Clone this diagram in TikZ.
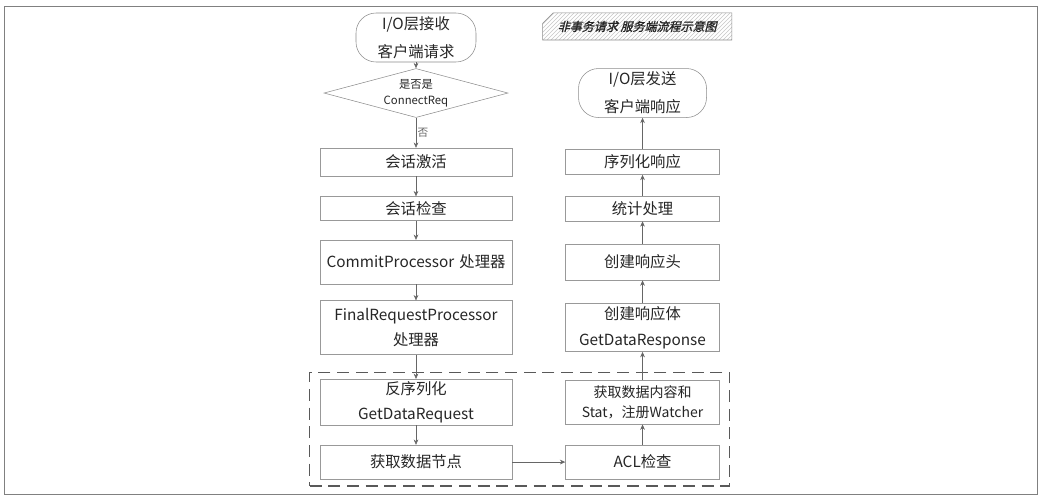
\documentclass[tikz,border=0pt]{standalone}
\usepackage{fontspec}
\setmainfont{Noto Sans CJK SC}
\newfontfamily\notefont[FakeSlant=0.25,FakeBold=1.2]{Noto Sans CJK SC}
\usepackage{xcolor}
\usepackage{tikz}
\usetikzlibrary{shapes.geometric,shapes.misc,arrows.meta,positioning,fit,patterns}

\begin{document}
\begin{tikzpicture}[
  font=\fontsize{11.5}{19}\selectfont, text=black!85,
  proc/.style={rectangle, draw=black!40, fill=white, align=center,
               inner xsep=0pt, inner ysep=0pt},
  procl/.style={proc, text width=144pt},
  procr/.style={proc, text width=115.5pt},
  term/.style={rectangle, rounded corners=15pt, draw=black!45, fill=white,
               text width=90pt, align=center, inner sep=0pt,
               minimum height=36.75pt, font=\fontsize{11.5}{21}\selectfont},
  decide/.style={diamond, draw=black!45, aspect=3.75, inner sep=0pt,
                 minimum width=138pt, minimum height=36.75pt, align=center,
                 font=\fontsize{8.5}{12}\selectfont},
  note/.style={chamfered rectangle, chamfered rectangle corners=north west,
               chamfered rectangle xsep=4pt, chamfered rectangle ysep=4pt,
               draw=black!45, pattern=north east lines, pattern color=black!22,
               minimum width=142pt, minimum height=16pt, inner sep=2pt,
               font=\notefont\fontsize{9}{11}\selectfont},
  lab/.style={font=\fontsize{8}{10}\selectfont, inner sep=1pt},
  arr/.style={-{Stealth[length=4pt, width=3.5pt]}, black!60},
  group/.style={draw=black!65, line width=0.8pt, dash pattern=on 9pt off 5pt},
  node distance=15pt and 39.75pt]

\useasboundingbox (0,0) rectangle (780pt,-371.25pt);
\draw[black!50] (3pt,-4.5pt) rectangle (777.75pt,-370.5pt);

% request side
\node[term] (start) at (312pt,-28.125pt) {I/O层接收\\客户端请求};
\node[decide, below=4.5pt of start] (isconn) {是否是\\ConnectReq};
\node[procl, minimum height=21pt, below=22.5pt of isconn] (activate) {会话激活};
\node[procl, minimum height=18pt, below=15pt of activate] (check) {会话检查};
\node[procl, minimum height=33pt, below=14.25pt of check] (commit) {CommitProcessor 处理器};
\node[procl, minimum height=40.5pt, below=12pt of commit] (final) {FinalRequestProcessor\\处理器};
\node[procl, minimum height=34.5pt, below=18pt of final] (deser) {反序列化\\GetDataRequest};
\node[procl, minimum height=25.5pt, below=14.5pt of deser] (getnode) {获取数据节点};

% response side
\node[procr, minimum height=25.5pt, right=of getnode] (acl) {ACL检查};
\node[procr, minimum height=33pt, font=\fontsize{10.5}{15}\selectfont,
      right=of deser] (fetch) {获取数据内容和\\Stat，注册Watcher};
\node[procr, minimum height=36pt, right=of final] (respbody) {创建响应体\\GetDataResponse};
\node[procr, minimum height=27pt, right=of commit] (resphead) {创建响应头};
\node[procr, minimum height=18.75pt, right=of check] (stats) {统计处理};
\node[procr, minimum height=18.75pt, right=of activate] (serial) {序列化响应};
\node[term, text width=96pt, right=52.5pt of isconn] (finish) {I/O层发送\\客户端响应};
\node[note, above=21pt of finish, xshift=-4pt] (title) {非事务请求 服务端流程示意图};

\node[group, fit=(deser)(getnode)(acl)(fetch), inner xsep=7.5pt, inner ysep=5pt] (datastage) {};

\draw[arr] (start) -- (isconn);
\draw[arr] (isconn) -- node[lab, right] {否} (activate);
\draw[arr] (activate) -- (check);
\draw[arr] (check) -- (commit);
\draw[arr] (commit) -- (final);
\draw[arr] (final) -- (deser);
\draw[arr] (deser) -- (getnode);
\draw[arr] (getnode) -- (acl);
\draw[arr] (acl) -- (fetch);
\draw[arr] (fetch) -- (respbody);
\draw[arr] (respbody) -- (resphead);
\draw[arr] (resphead) -- (stats);
\draw[arr] (stats) -- (serial);
\draw[arr] (serial) -- (finish);
\end{tikzpicture}
\end{document}
